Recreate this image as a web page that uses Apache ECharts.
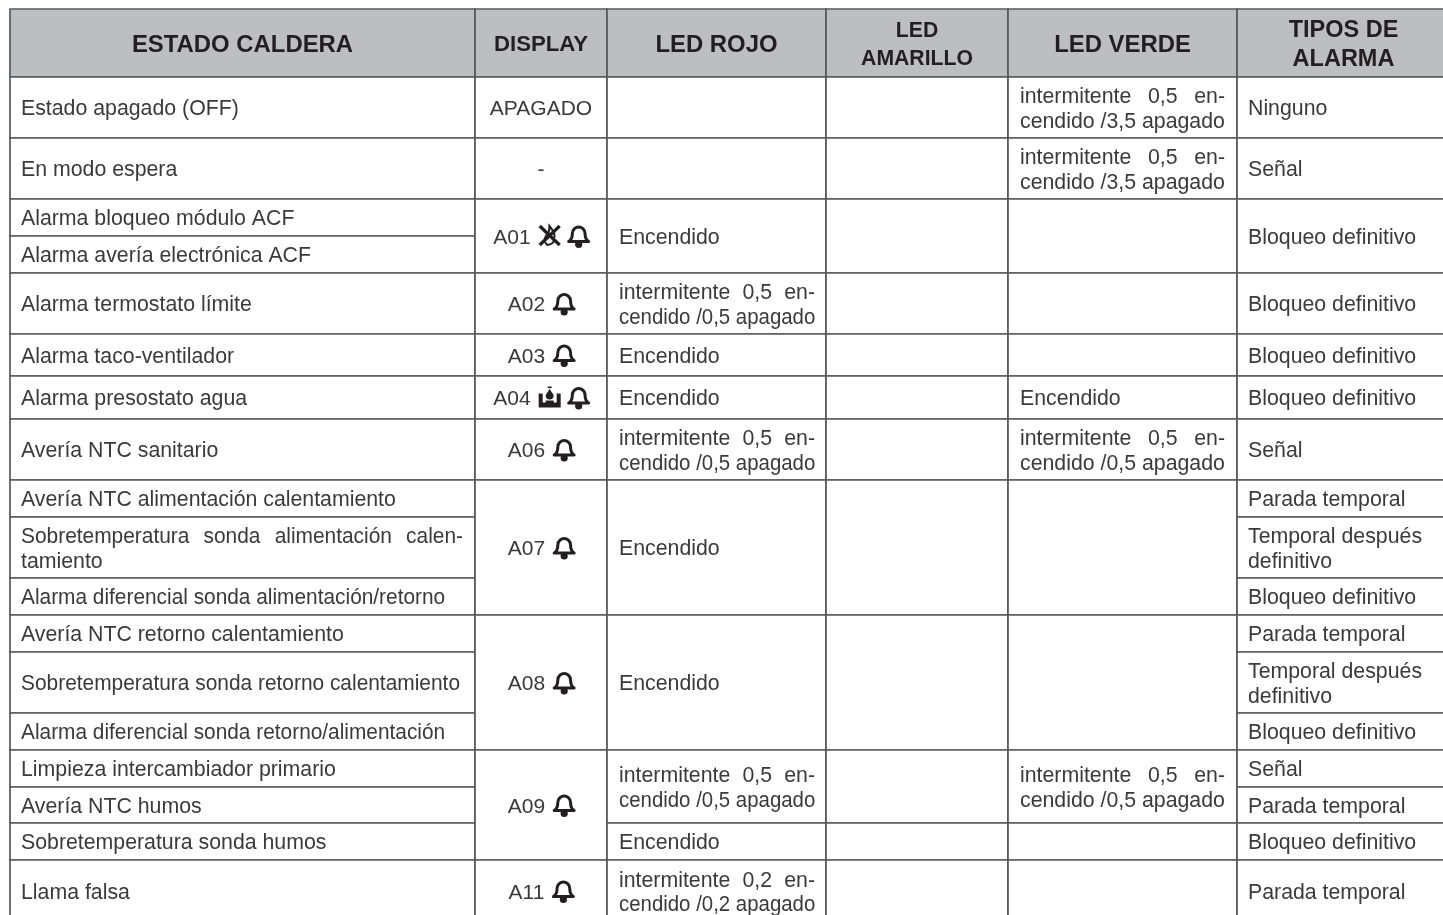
<!DOCTYPE html>
<html>
<head>
<meta charset="utf-8">
<style>html,body{margin:0;padding:0;background:#fff}#main{width:1443px;height:915px}</style>
<script src="https://cdn.jsdelivr.net/npm/echarts@6/dist/echarts.min.js"></script>
</head>
<body>
<div id="main"></div>
<script>
// contenido de la tabla
var headers = ['ESTADO CALDERA', 'DISPLAY', 'LED ROJO', 'LED\nAMARILLO', 'LED VERDE', 'TIPOS DE\nALARMA'];
var estados = [
    'Estado apagado (OFF)', 'En modo espera', 'Alarma bloqueo módulo ACF', 'Alarma avería electrónica ACF',
    'Alarma termostato límite', 'Alarma taco-ventilador', 'Alarma presostato agua', 'Avería NTC sanitario',
    'Avería NTC alimentación calentamiento', 'Sobretemperatura sonda alimentación calen-\ntamiento',
    'Alarma diferencial sonda alimentación/retorno', 'Avería NTC retorno calentamiento',
    'Sobretemperatura sonda retorno calentamiento', 'Alarma diferencial sonda retorno/alimentación',
    'Limpieza intercambiador primario', 'Avería NTC humos', 'Sobretemperatura sonda humos', 'Llama falsa'
];
var INT_05 = 'intermitente 0,5 en-\ncendido /0,5 apagado';
var INT_35 = 'intermitente 0,5 en-\ncendido /3,5 apagado';
var INT_02 = 'intermitente 0,2 en-\ncendido /0,2 apagado';
var ON = 'Encendido', BLOQ = 'Bloqueo definitivo', PARADA = 'Parada temporal', TEMP = 'Temporal después\ndefinitivo';

// [texto, filas que ocupa]
var display = [['APAGADO', 1], ['-', 1], ['A01', 2, 'flame', 'bell'], ['A02', 1, 'bell'], ['A03', 1, 'bell'],
    ['A04', 1, 'water', 'bell'], ['A06', 1, 'bell'], ['A07', 3, 'bell'], ['A08', 3, 'bell'], ['A09', 3, 'bell'], ['A11', 1, 'bell']];
var ledRojo = [['', 1], ['', 1], [ON, 2], [INT_05, 1], [ON, 1], [ON, 1], [INT_05, 1], [ON, 3], [ON, 3], [INT_05, 2], [ON, 1], [INT_02, 1]];
var ledAmarillo = [['', 1], ['', 1], ['', 2], ['', 1], ['', 1], ['', 1], ['', 1], ['', 3], ['', 3], ['', 2], ['', 1], ['', 1]];
var ledVerde = [[INT_35, 1], [INT_35, 1], ['', 2], ['', 1], ['', 1], [ON, 1], [INT_05, 1], ['', 3], ['', 3], [INT_05, 2], ['', 1], ['', 1]];
var tipos = [['Ninguno', 1], ['Señal', 1], [BLOQ, 2], [BLOQ, 1], [BLOQ, 1], [BLOQ, 1], ['Señal', 1], [PARADA, 1], [TEMP, 1], [BLOQ, 1],
    [PARADA, 1], [TEMP, 1], [BLOQ, 1], ['Señal', 1], [PARADA, 1], [BLOQ, 1], [PARADA, 1]];

// geometria de la tabla, en pixeles del eje
var colEdges = [10, 475, 607, 826, 1008, 1237, 1450];
var rowEdges = [9, 77, 138, 199, 236, 273, 334, 376, 419, 480, 517, 578, 615, 652, 713, 750, 787, 823, 860, 922];
var textLeft = [21, 0, 619, 0, 1020, 1248];
var textRight = [463, 0, 815, 0, 1225, 1430];
var headerSize = [23.9, 22.2, 23.9, 21.2, 23.9, 23.5];
var headerGap = { 3: 28, 5: 29 };
// lineas largas que en el original van algo comprimidas
var tightLines = {
    'Sobretemperatura sonda retorno calentamiento': 0.981,
    'Alarma diferencial sonda alimentación/retorno': 0.979,
    'Alarma diferencial sonda retorno/alimentación': 0.979,
    'Sobretemperatura sonda alimentación calen-': 0.981
};
var tightRojo = 0.958;

var FONT = '"Liberation Sans", Arial, sans-serif';
var TEXT = '#3a3a3c', LINE = '#58595b', INK = '#231f20';
var BODY_FONT = '21.3px ' + FONT;
var measure = document.createElement('canvas').getContext('2d');

function textWidth(t, font) {
    measure.font = font;
    return measure.measureText(t).width;
}
function label(t, x, y, font, color, align, sx) {
    return { type: 'text', x: x, y: y, scaleX: sx || 1,
        style: { text: t, x: 0, y: 0, font: font, fill: color, align: align, verticalAlign: 'middle' } };
}

// construir las celdas
var cells = [];
headers.forEach(function (h, i) { cells.push({ col: i, from: 0, to: 1, text: h, header: true }); });
estados.forEach(function (t, i) { cells.push({ col: 0, from: i + 1, to: i + 2, text: t }); });
[display, ledRojo, ledAmarillo, ledVerde, tipos].forEach(function (list, k) {
    var r = 1;
    list.forEach(function (c) {
        cells.push({ col: k + 1, from: r, to: r + c[1], text: c[0], icons: c.slice(2) });
        r += c[1];
    });
});

function bell(x, cy) {
    return [
        { type: 'path', shape: { pathData: 'M0 18C3 16 4 13 4 8C4 3 8 0 11 0C14 0 18 3 18 8C18 13 19 16 22 18Z', layout: 'cover', x: x + 1, y: cy - 9, width: 20, height: 14.5 },
            style: { fill: 'none', stroke: INK, lineWidth: 3, lineJoin: 'round' } },
        { type: 'circle', shape: { cx: x + 11, cy: cy + 8.5, r: 3.6 }, style: { fill: INK } }
    ];
}
function flame(x, cy) {
    return [
        { type: 'line', shape: { x1: x + 1, y1: cy - 10, x2: x + 21, y2: cy + 9 }, style: { stroke: INK, lineWidth: 3.2 } },
        { type: 'line', shape: { x1: x + 21, y1: cy - 10, x2: x + 1, y2: cy + 9 }, style: { stroke: INK, lineWidth: 3.2 } },
        { type: 'path', shape: { pathData: 'M6 20C1 15 4 10 7 8C8 5 8 2 8 0C12 5 15 10 12 14C13 17 11 19 6 20Z', layout: 'cover', x: x + 6, y: cy - 10, width: 10, height: 19 },
            style: { fill: 'none', stroke: INK, lineWidth: 2 } }
    ];
}
function water(x, cy) {
    return [
        { type: 'polygon', shape: { points: [[x, cy - 4], [x + 4, cy - 4], [x + 4, cy + 5], [x + 18, cy + 5], [x + 18, cy - 4], [x + 22, cy - 4], [x + 22, cy + 10], [x, cy + 10]] }, style: { fill: INK } },
        { type: 'path', shape: { pathData: 'M5 0C6 4 10 7 10 10C10 13 8 15 5 15C2 15 0 13 0 10C0 7 4 4 5 0Z', layout: 'cover', x: x + 7, y: cy - 9, width: 8, height: 11 }, style: { fill: INK } },
        { type: 'rect', shape: { x: x + 9, y: cy - 11, width: 4, height: 1.6 }, style: { fill: INK } },
        { type: 'rect', shape: { x: x + 7, y: cy + 3, width: 8, height: 3 }, style: { fill: INK } }
    ];
}
var iconFn = { bell: bell, flame: flame, water: water };

function drawLine(out, line, y, col) {
    var left = textLeft[col], right = textRight[col];
    var sx = tightLines[line] || 1;
    // la columna de rojo va comprimida en las lineas de "cendido"
    if (col === 2 && /^cendido/.test(line)) sx = tightRojo;
    if (!/-$/.test(line)) {
        out.push(label(line, left, y, BODY_FONT, TEXT, 'left', sx));
        return;
    }
    // lineas justificadas: repartir los huecos
    var words = line.split(' ');
    var total = 0;
    words.forEach(function (w) { total += textWidth(w, BODY_FONT) * sx; });
    var gap = (right - left - total) / (words.length - 1);
    var px = left;
    words.forEach(function (w) {
        out.push(label(w, px, y, BODY_FONT, TEXT, 'left', sx));
        px += textWidth(w, BODY_FONT) * sx + gap;
    });
}

function renderItem(params, api) {
    var c = cells[api.value(0)];
    var tl = api.coord([colEdges[c.col], rowEdges[c.from]]);
    var br = api.coord([colEdges[c.col + 1], rowEdges[c.to]]);
    var children = [{
        type: 'rect',
        shape: { x: tl[0], y: tl[1], width: br[0] - tl[0], height: br[1] - tl[1] },
        style: { fill: c.header ? '#bcbec0' : '#fff', stroke: LINE, lineWidth: 1.7 }
    }];
    var cx = (tl[0] + br[0]) / 2, cy = (tl[1] + br[1]) / 2;
    var lines = c.text ? c.text.split('\n') : [];
    if (c.header) {
        var hf = 'bold ' + headerSize[c.col] + 'px ' + FONT;
        var gap = headerGap[c.col] || 0;
        lines.forEach(function (l, i) {
            children.push(label(l, cx, cy + 2 + (i - (lines.length - 1) / 2) * gap, hf, INK, 'center'));
        });
    } else if (c.col === 1) {
        var font = '21px ' + FONT;
        var w = textWidth(c.text, font);
        var x = cx - (w + c.icons.length * 29) / 2;
        children.push(label(c.text, x, cy + 2, font, TEXT, 'left'));
        x += w + 8;
        c.icons.forEach(function (name) {
            children = children.concat(iconFn[name](x, cy));
            x += 29;
        });
    } else {
        lines.forEach(function (l, i) {
            drawLine(children, l, cy + 2 + (i - (lines.length - 1) / 2) * 24.5, c.col);
        });
    }
    return { type: 'group', children: children };
}

var myChart = echarts.init(document.getElementById('main'), null, { renderer: 'canvas' });
var option = {
    animation: false,
    backgroundColor: '#fff',
    grid: { left: 0, right: 0, top: 0, bottom: 0 },
    xAxis: { type: 'value', min: 0, max: 1443, show: false },
    yAxis: { type: 'value', min: 0, max: 915, inverse: true, show: false },
    series: [{
        type: 'custom',
        coordinateSystem: 'cartesian2d',
        clip: false,
        silent: true,
        renderItem: renderItem,
        data: cells.map(function (c, i) { return [i, colEdges[c.col], rowEdges[c.from]]; }),
        encode: { x: 1, y: 2 }
    }]
};
myChart.setOption(option);
</script>
</body>
</html>
